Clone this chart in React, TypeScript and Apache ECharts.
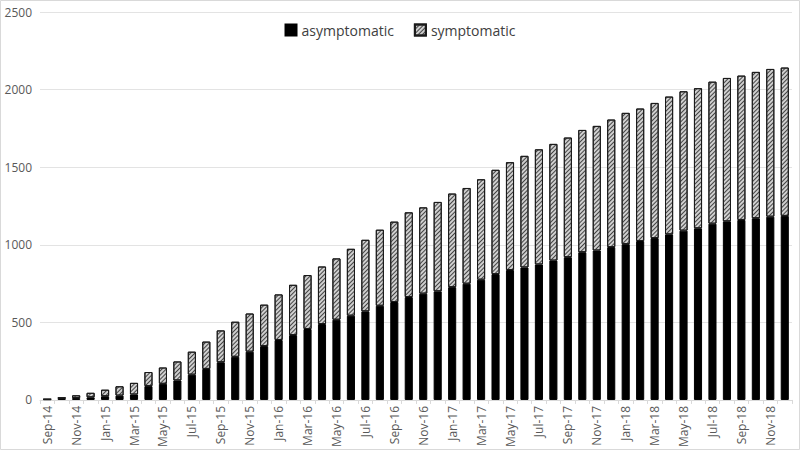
import React, { useEffect, useRef } from "react";
import * as echarts from "echarts";

const months: string[] = [
  "Sep-14", "Oct-14", "Nov-14", "Dec-14",
  "Jan-15", "Feb-15", "Mar-15", "Apr-15", "May-15", "Jun-15", "Jul-15", "Aug-15", "Sep-15", "Oct-15", "Nov-15", "Dec-15",
  "Jan-16", "Feb-16", "Mar-16", "Apr-16", "May-16", "Jun-16", "Jul-16", "Aug-16", "Sep-16", "Oct-16", "Nov-16", "Dec-16",
  "Jan-17", "Feb-17", "Mar-17", "Apr-17", "May-17", "Jun-17", "Jul-17", "Aug-17", "Sep-17", "Oct-17", "Nov-17", "Dec-17",
  "Jan-18", "Feb-18", "Mar-18", "Apr-18", "May-18", "Jun-18", "Jul-18", "Aug-18", "Sep-18", "Oct-18", "Nov-18", "Dec-18",
];

const asymptomatic: number[] = [
  4, 12, 12, 17, 24, 28, 35, 89, 104, 126, 163, 200, 243, 278, 311, 347,
  386, 418, 457, 489, 517, 543, 571, 607, 631, 663, 685, 700,
  727, 749, 775, 811, 837, 854, 873, 898, 920, 952, 963, 985,
  1004, 1024, 1043, 1067, 1091, 1106, 1136, 1151, 1160, 1171, 1181, 1186,
];

const symptomatic: number[] = [
  1, 3, 18, 29, 42, 60, 75, 91, 105, 122, 148, 176, 205, 226, 246, 267,
  294, 324, 348, 371, 395, 431, 461, 490, 518, 546, 556, 576,
  603, 617, 647, 672, 695, 719, 742, 752, 771, 788, 803, 822,
  846, 854, 871, 888, 898, 903, 915, 924, 930, 943, 952, 956,
];

const yTicks = { min: 0, max: 2500, interval: 500 };

const FONT = "'Open Sans', 'Noto Sans', sans-serif";

export default function App() {
  const ref = useRef<HTMLDivElement>(null);
  useEffect(() => {
    if (!ref.current) return;
    const chart = echarts.init(ref.current, undefined, { renderer: "svg" });
    const hatch = {
      symbol: "rect",
      symbolSize: 1,
      color: "#444444",
      dashArrayX: [1, 0],
      dashArrayY: [1, 1.5],
      rotation: -Math.PI / 4,
    };
    chart.setOption({
      animation: false,
      backgroundColor: "#ffffff",
      textStyle: { fontFamily: FONT },
      legend: {
        top: 18,
        left: "center",
        icon: "rect",
        itemWidth: 11,
        itemHeight: 11,
        itemGap: 20,
        textStyle: { fontSize: 14, color: "#404040", fontFamily: FONT },
        data: ["asymptomatic", "symptomatic"],
      },
      grid: { left: 40, right: 8, top: 12, bottom: 50, containLabel: false },
      xAxis: {
        type: "category",
        data: months,
        axisLine: { lineStyle: { color: "#d9d9d9" } },
        axisTick: { show: true, interval: 0, length: 4, lineStyle: { color: "#d9d9d9" } },
        axisLabel: {
          interval: 1,
          rotate: 90,
          fontSize: 12,
          color: "#595959",
          margin: 6,
          fontFamily: FONT,
        },
      },
      yAxis: {
        type: "value",
        min: yTicks.min,
        max: yTicks.max,
        interval: yTicks.interval,
        axisLine: { show: false },
        axisTick: { show: false },
        splitLine: { lineStyle: { color: "#e3e3e3", width: 1 } },
        axisLabel: {
          fontSize: 12,
          color: "#595959",
          margin: 8,
          fontFamily: FONT,
          formatter: (v: number) => String(v),
        },
      },
      series: [
        {
          name: "asymptomatic",
          type: "bar",
          stack: "total",
          data: asymptomatic,
          barWidth: "56%",
          itemStyle: { color: "#000000", borderColor: "#000000", borderWidth: 1 },
        },
        {
          name: "symptomatic",
          type: "bar",
          stack: "total",
          data: symptomatic,
          barWidth: "56%",
          itemStyle: {
            color: "#cfcfcf",
            borderColor: "#1a1a1a",
            borderWidth: 1,
            decal: hatch,
          },
        },
      ],
      graphic: [
        {
          type: "rect",
          shape: { x: 0.5, y: 0.5, width: 799, height: 449 },
          style: { fill: "none", stroke: "#d9d9d9", lineWidth: 1 },
          silent: true,
        },
      ],
    });
    return () => chart.dispose();
  }, []);
  return (
    <div
      ref={ref}
      style={{ position: "absolute", left: 0, top: 0, width: 800, height: 450 }}
    />
  );
}
